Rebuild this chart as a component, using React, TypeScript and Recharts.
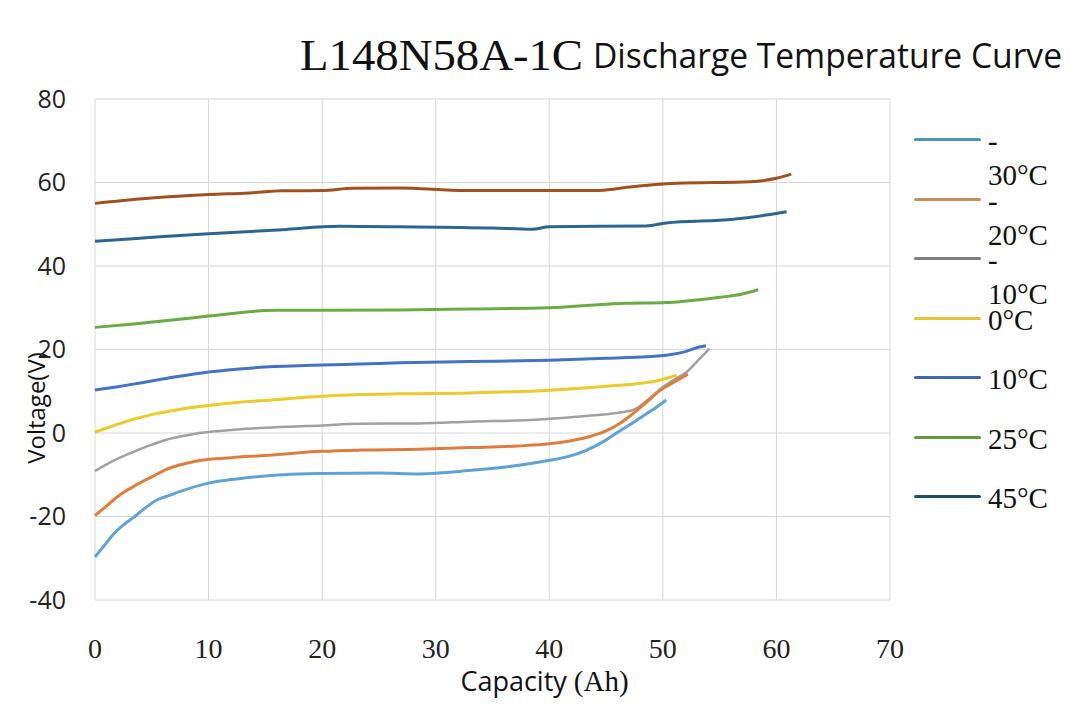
import { LineChart, Line, XAxis, YAxis, CartesianGrid, Legend, Label } from 'recharts'

const X_TICKS = [0, 10, 20, 30, 40, 50, 60, 70]
const Y_TICKS = [-40, -20, 0, 20, 40, 60, 80]

// capacity (Ah) / voltage (V)
const capM30 = [0, 0.8, 1.6, 2.5, 3.4, 4.4, 5.4, 6.5, 7.5, 10, 12.5, 15, 20, 25, 28.5, 32.9, 36.5, 39.9, 41.7, 43.2, 44.8, 46.2, 47.4, 48.5, 49.5, 50.3]
const voltM30 = [-29.7, -27, -24.3, -22, -20.2, -18, -16.1, -15, -14, -12, -11, -10.3, -9.7, -9.6, -9.8, -9.0, -8.0, -6.6, -5.6, -4.2, -2.0, 0.5, 2.5, 4.5, 6.3, 7.9]

const capM20 = [0, 1, 2, 3.4, 5, 6.3, 7.7, 9.2, 12, 15, 20, 23.3, 28.5, 33, 37.3, 40, 41.8, 43.5, 45, 46.2, 47.3, 48.5, 49.7, 51, 52.2]
const voltM20 = [-19.8, -17.5, -15.2, -12.8, -10.5, -8.7, -7.5, -6.6, -5.9, -5.4, -4.4, -4.1, -3.9, -3.5, -3.1, -2.6, -1.9, -0.9, 0.5, 2.3, 4.5, 7.2, 10.1, 12.2, 14.1]

const capM10 = [0, 1.5, 3.4, 5, 6.3, 8, 9.2, 12, 15, 20, 23.3, 28.5, 33, 38.8, 43, 47.3, 48.7, 50, 51, 52.1, 53.1, 54.1]
const voltM10 = [-9.1, -6.8, -4.5, -2.8, -1.6, -0.6, 0, 0.7, 1.25, 1.8, 2.2, 2.3, 2.7, 3.2, 4.0, 5.45, 8.0, 11.0, 12.8, 14.6, 17.4, 20.2]

const capP0 = [0, 1.7, 3.4, 5, 6.9, 8.5, 10, 12.5, 15, 20, 23.3, 26.8, 33, 40, 45, 49.7, 51.2]
const voltP0 = [0.25, 1.8, 3.3, 4.4, 5.4, 6.1, 6.6, 7.3, 7.8, 8.8, 9.2, 9.4, 9.6, 10.25, 11.2, 12.65, 13.85]

const capP10 = [0, 2, 4, 7, 10, 15, 20, 23.3, 26.8, 33, 40, 45, 50.3, 52, 53.2, 53.8]
const voltP10 = [10.3, 11.1, 12.0, 13.4, 14.6, 15.8, 16.3, 16.5, 16.8, 17.1, 17.45, 17.9, 18.65, 19.5, 20.6, 20.9]

const capP25 = [0, 3.4, 7, 10, 16, 20, 26.8, 33, 40, 46.8, 50, 55, 57, 58.4]
const voltP25 = [25.3, 26.1, 27.1, 28.0, 29.4, 29.4, 29.45, 29.7, 30.0, 31.1, 31.2, 32.5, 33.3, 34.3]

const capP45 = [0, 3.7, 5.7, 10, 16.5, 21.5, 26.8, 35, 38.5, 40, 48.5, 50.3, 56.2, 59.1, 60.9]
const voltP45 = [45.9, 46.6, 47.0, 47.7, 48.7, 49.5, 49.4, 49.1, 48.8, 49.4, 49.6, 50.3, 51.2, 52.2, 53.0]

// top brown curve has no legend entry in the source
const capTop = [0, 4.2, 10, 13.6, 16.5, 20, 22.7, 26.8, 32.6, 44.4, 47.3, 51.2, 57.7, 60, 61.3]
const voltTop = [55.0, 56.1, 57.1, 57.5, 58.0, 58.1, 58.6, 58.7, 58.1, 58.1, 59.0, 59.8, 60.2, 61.0, 62.0]

const zip = (cap: number[], volt: number[]) => cap.map((c, i) => ({ c, v: volt[i] }))

const SERIES = [
  { key: 'top', name: '', data: zip(capTop, voltTop), color: '#a0511f', width: 3, legend: false },
  { key: 'p45', name: '45°C', data: zip(capP45, voltP45), color: '#2c6690', width: 3, legend: true },
  { key: 'p25', name: '25°C', data: zip(capP25, voltP25), color: '#6aab46', width: 3, legend: true },
  { key: 'p10', name: '10°C', data: zip(capP10, voltP10), color: '#4472c4', width: 3, legend: true },
  { key: 'p0', name: '0°C', data: zip(capP0, voltP0), color: '#ebcb2a', width: 3, legend: true },
  { key: 'm10', name: '-10°C', data: zip(capM10, voltM10), color: '#a0a0a0', width: 2.5, legend: true },
  { key: 'm20', name: '-20°C', data: zip(capM20, voltM20), color: '#e07d3c', width: 3, legend: true },
  { key: 'm30', name: '-30°C', data: zip(capM30, voltM30), color: '#5fa2d6', width: 3, legend: true },
]

const LEGEND_ORDER = ['m30', 'm20', 'm10', 'p0', 'p10', 'p25', 'p45']
const LEGEND_COLORS: Record<string, string> = {
  m30: '#4a96c0', m20: '#c48f5c', m10: '#7f7f7f', p0: '#e2c330', p10: '#3f67ad', p25: '#5f9a3c', p45: '#1f4f6e',
}

const legendText = { position: 'absolute' as const, left: 74, fontFamily: 'Liberation Serif', fontSize: 29, lineHeight: '24px', color: '#111', whiteSpace: 'nowrap' as const }

function LegendBox() {
  return (
    <div style={{ position: 'relative', width: 161, height: 420 }}>
      {LEGEND_ORDER.map((k, i) => {
        const s = SERIES.find((x) => x.key === k)!
        const neg = s.name.startsWith('-')
        return (
          <div key={k} style={{ position: 'absolute', left: 0, top: i * 59.5, width: 161, height: 60 }}>
            <div style={{ position: 'absolute', left: 0, top: 9, width: 67, height: 3, background: LEGEND_COLORS[k], borderRadius: 2 }} />
            {neg ? (
              <>
                <div style={{ ...legendText, top: 0 }}>-</div>
                <div style={{ ...legendText, top: 34 }}>{s.name.slice(1)}</div>
              </>
            ) : (
              <div style={{ ...legendText, top: 0 }}>{s.name}</div>
            )}
          </div>
        )
      })}
    </div>
  )
}

export default function App() {
  return (
    <div style={{ position: 'absolute', left: 0, top: 0, width: 1075, height: 711, background: '#fff' }}>
      <svg width={1075} height={90} style={{ position: 'absolute', left: 0, top: 0 }}>
        <text x={300} y={70} fontFamily="Liberation Serif" fontSize={45} fill="#111" textLength={283} lengthAdjust="spacingAndGlyphs">L148N58A-1C</text>
        <text x={593} y={68} fontFamily="Open Sans" fontSize={34} fill="#111" textLength={469} lengthAdjust="spacingAndGlyphs">Discharge Temperature Curve</text>
      </svg>
      {/* legend width (161) is taken from the right margin by recharts */}
      <LineChart width={1075} height={711} margin={{ top: 99, right: 24, bottom: 0, left: 0 }}>
        <CartesianGrid stroke="#d6d6d6" strokeWidth={1} />
        <XAxis
          type="number"
          dataKey="c"
          domain={[0, 70]}
          ticks={X_TICKS}
          height={111}
          axisLine={false}
          tickLine={false}
          tickSize={0}
          tickMargin={38}
          tick={{ fontFamily: 'Liberation Serif', fontSize: 28, fill: '#222' }}
        >
          <Label
            content={({ viewBox }: any) => (
              <text x={viewBox.x + viewBox.width / 2 + 52} y={691} textAnchor="middle" fill="#111">
                <tspan fontFamily="Open Sans" fontSize={27}>Capacity </tspan>
                <tspan fontFamily="Liberation Serif" fontSize={29}>(Ah)</tspan>
              </text>
            )}
          />
        </XAxis>
        <YAxis
          type="number"
          domain={[-40, 80]}
          ticks={Y_TICKS}
          width={95}
          axisLine={false}
          tickLine={false}
          tickSize={0}
          tickMargin={29}
          tick={{ fontFamily: 'Open Sans', fontSize: 25, fill: '#222' }}
        >
          <Label
            content={() => (
              <text x={35} y={408} textAnchor="middle" dominantBaseline="central" transform="rotate(-90, 35, 408)" fontFamily="Open Sans" fontSize={24} fill="#111">
                Voltage(V)
              </text>
            )}
          />
        </YAxis>
        <Legend layout="vertical" verticalAlign="middle" align="right" wrapperStyle={{ left: 914, top: 129, width: 161, height: 420 }} content={() => <LegendBox />} />
        {SERIES.map((s) => (
          <Line
            key={s.key}
            data={s.data}
            dataKey="v"
            name={s.name}
            type="monotone"
            stroke={s.color}
            strokeWidth={s.width}
            dot={false}
            legendType={s.legend ? 'line' : 'none'}
            isAnimationActive={false}
          />
        ))}
      </LineChart>
    </div>
  )
}
